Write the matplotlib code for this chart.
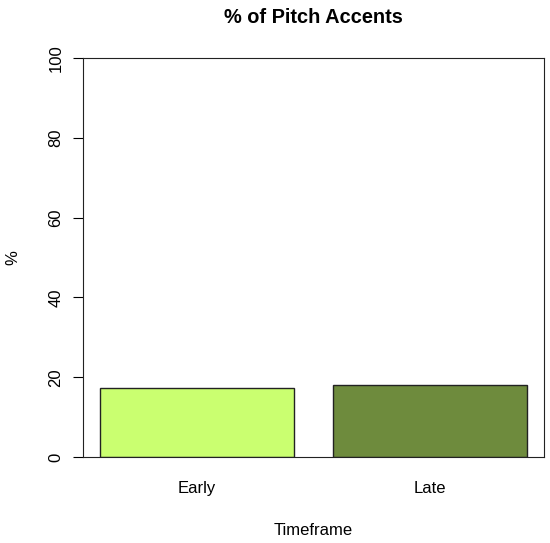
import matplotlib
matplotlib.use("Agg")
import matplotlib.pyplot as plt

# data
categories = ["Early", "Late"]
values = [17.3, 18.2]
colors = ["#CAFF70", "#6E8B3D"]
y_ticks = [0, 20, 40, 60, 80, 100]

plt.rcParams["font.family"] = ["Liberation Sans", "DejaVu Sans"]

fig = plt.figure(figsize=(5.5, 5.43), dpi=100)
ax = fig.add_axes([0.1504, 0.1578, 0.8387, 0.7359])

x = list(range(len(categories)))
ax.bar(x, values, width=0.833, color=colors, edgecolor="#222222", linewidth=1.0)

ax.set_xlim(-0.491, 1.491)
ax.set_ylim(0, 100)
ax.set_xticks(x)
ax.set_xticklabels(categories, fontsize=12)
ax.set_yticks(y_ticks)
ax.set_yticklabels([str(t) for t in y_ticks], fontsize=12, rotation=90, va="center")
ax.tick_params(axis="x", length=0, pad=17)
ax.tick_params(axis="y", length=7, width=0.8, pad=7)

for s in ax.spines.values():
    s.set_linewidth(0.8)
    s.set_color("#222222")

ax.set_xlabel("Timeframe", fontsize=12, va="center")
ax.xaxis.set_label_coords(0.5, -0.182)
ax.set_ylabel("%", fontsize=12, va="center")
ax.yaxis.set_label_coords(-0.151, 0.5)
ax.set_title("% of Pitch Accents", fontsize=14.4, fontweight="bold", y=1.10, va="center", pad=0)

fig.savefig("out.png", dpi=100)
